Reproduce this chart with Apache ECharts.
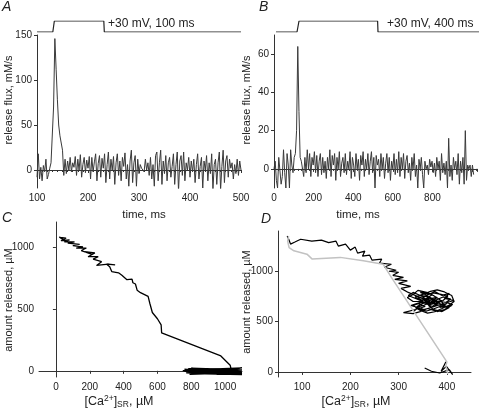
<!DOCTYPE html>
<html><head><meta charset="utf-8">
<script src="https://cdn.jsdelivr.net/npm/echarts@6/dist/echarts.min.js"></script>
<style>html,body{margin:0;padding:0;background:#fff}#c{width:480px;height:411px}</style>
</head><body><div id="c"></div>
<script>
// Panel A: release flux (mM/s), sampled from t0 every dt ms
const fluxA_t0 = 100, fluxA_dt = 2.5;
const fluxA = [-8,18,-10,3,-12,5,-2,12,-10,-5,2,8,6,70,146,112,78,50,38,36,22,-6,
12,-4,10,0,14,-2,8,3,15,-6,12,0,17,-8,6,14,-3,11,2,15,-10,14,-2,9,18,-12,7,16,-8,13,2,18,-14,6,20,-10,12,0,15,-16,8,18,-6,10,-12,14,4,19,-10,6,-18,10,22,-14,8,16,-18,12,-4,6,2,4,-2,12,0,8,-6,14,-10,6,-18,16,20,-12,8,22,-16,10,-4,16,-12,8,14,-8,4,18,-16,6,20,-24,10,16,-6,20,-12,8,0,14,-8,10,-2,12,-14,6,18,-10,4,14,-20,10,0,16,-12,8,-4,18,-22,6,12,-16,8,20,-22,4,22,-14,10,16,-8,12,2,8,-10,6,-4,12,-6,10,0];
// Panel B
const fluxB_t0 = 0, fluxB_dt = 6;
const fluxB = [0,4,-6,-10,6,7,-8,-4,10,-2,-10,8,2,-10,10,2,-2,6,8,20,64,30,6,4,4,-4,6,-2,10,0,8,-4,6,2,9,-2,7,-4,4,8,-3,6,-2,4,-5,6,0,10,-4,7,2,8,-6,6,0,9,-4,3,6,-2,8,-3,4,0,9,-5,6,2,-4,8,0,5,-6,7,2,9,-4,5,0,8,-3,4,9,-2,6,-10,7,2,5,-4,8,0,6,-5,3,8,-2,6,-6,4,0,8,-3,5,-2,9,-4,6,0,8,-5,4,7,-2,3,-6,6,0,8,-4,2,-10,5,0,6,-3,-10,4,0,2,-3,5,1,4,-2,3,-4,6,0,4,-6,8,-2,3,-3,4,-10,16,-4,2,-6,6,0,4,-3,8,-8,4,-2,6,-8,20,-6,2,0,2,-4,2,-3];
// Voltage protocol (0 = holding, 1 = +30 mV)
const pulseA_t = [100,131,134,231,232,500];
const pulseA_v = [0,0,1,1,0,0];
const pulseB_t = [10,115,125,518,520,1025];
const pulseB_v = [0,0,1,1,0,0];
// Panel C: [Ca2+]SR (µM) vs amount released (µM)
const caC = [1100,760,1095,790,1100,770,1090,750,1100,880,1085,770,1100,800,1060,760,1100,790,1090,900,1100,780,1070,950,1100,820,1095,760,1100,850,1040,1030,
975,625,622,600,570,555,545,500,480,470,455,450,420,390,370,330,318,300,350,310,240,270,220,250,190,230,170,210,150,180,120,160,100,140,70,110,50,80,30,60,25,40,20];
const relC = [0,12,-22,18,-28,-12,20,2,-30,-25,15,-18,8,22,-24,-5,-14,-28,22,-20,-26,14,10,-28,-18,18,-8,5,24,-15,-12,45,
120,305,370,420,470,545,600,630,650,700,710,740,735,770,790,800,840,860,855,860,850,880,900,920,920,950,960,940,970,990,990,1000,1010,1020,1030,1040,1040,1055,1050,1070,1075,1060,1080];
// Panel D: black trace (null = gap in the recording)
const caD1 = [354,368,385,405,412,399,388,398,null,
331,340,325,350,335,360,345,370,355,380,365,390,375,400,385,410,395,380,360,345,330,310,335,355,340,365,350,375,390,405,395,415,400,385,370,360,380,365,345,330,320,340,355,370,385,405,390,372,362,378,350,338,352,368,383,397,385,372,358,340,330,318,330,
345,360,375,392,408,398,412,400,388,372,358,342,330,348,366,384,370,356,372,388,402,392,378,362,346,334,350,366,380,395,410,415,405,390,375,360,345,335,352,368,
320,305,325,300,318,292,310,288,300,
280,295,270,285,260,265,245,240,225,230,215,210,200,190,175,170,155,140,120,97,85,76,72,69];
const relD1 = [39,7,-10,23,-26,56,7,100,null,
600,640,660,700,730,760,790,770,720,740,690,710,660,680,640,660,620,600,630,600,580,590,620,650,680,710,740,800,760,780,730,710,690,700,650,670,690,740,760,790,760,720,690,720,680,640,600,620,660,705,680,650,620,640,665,650,720,760,790,810,770,740,700,
700,735,710,745,725,690,670,640,655,625,605,625,660,690,670,690,730,760,785,770,750,710,680,700,720,745,770,800,815,795,760,700,665,630,598,585,610,640,662,690,
790,830,850,880,905,920,940,960,990,
1000,1010,1040,1070,1080,1120,1110,1160,1150,1200,1180,1240,1210,1270,1250,1300,1285,1310,1300,1318,1290,1270,1320,1350];
// Panel D: grey trace
const caD2 = [402,398,400,285,268,227,179,121,110,83,73,70,72];
const relD2 = [-20,60,100,940,1070,1105,1138,1121,1170,1203,1236,1300,1350];

function sampled(t0, dt, arr){ return arr.map((v,i)=>[t0+i*dt, v]); }
function pairs(xs, ys){ return xs.map((x,i)=> x==null ? ['-','-'] : [x, ys[i]]); }

const FONT = 'Liberation Sans, Arial, sans-serif';
const TXT = '#222';
const axLine = {lineStyle:{color:'#333', width:1}};
const lab = {color:TXT, fontSize:10, fontFamily:FONT, margin:5, formatter:v=>String(v)};
const tick = {length:3, lineStyle:{color:'#333'}};
function labV(vals, extra){ return Object.assign({}, lab, {customValues:vals}, extra||{}); }
function tickV(vals){ return Object.assign({}, tick, {customValues:vals}); }

function xAx(gi, min, max, opts){ return Object.assign({type:'value', gridIndex:gi, min, max, axisLine:axLine, axisTick:tick, axisLabel:lab, splitLine:{show:false}}, opts||{}); }
function yAx(gi, min, max, opts){ return Object.assign({type:'value', gridIndex:gi, min, max, axisLine:Object.assign({show:true},axLine), axisTick:tick, axisLabel:lab, splitLine:{show:false}}, opts||{}); }
function hidden(gi, min, max){ return {type:'value', gridIndex:gi, min, max, show:false}; }

const minor = {show:true, splitNumber:10, length:2, lineStyle:{color:'#333'}};
const chart = echarts.init(document.getElementById('c'), null, {renderer:'canvas'});
const option = {
  animation:false,
  backgroundColor:'#fff',
  grid:[
    {left:37, top:35, width:204, height:153},
    {left:274, top:35, width:205, height:153},
    {left:39, top:222, width:203, height:155},
    {left:278, top:231, width:193, height:146},
    {left:37, top:21, width:204, height:11},
    {left:274, top:21, width:205, height:11}
  ],
  xAxis:[
    xAx(0,100,500,{interval:100, minorTick:minor}),
    xAx(1,0,1025,{interval:200, axisLabel:Object.assign({}, lab, {formatter:v=>v>=1000?'':String(v)}), minorTick:minor}),
    xAx(2,-100,1100,{axisLabel:labV([0,200,400,600,800,1000]), axisTick:tickV([0,200,400,600,800,1000])}),
    xAx(3,50,450,{axisLabel:labV([100,200,300,400]), axisTick:tickV([100,200,300,400])}),
    hidden(4,100,500),
    hidden(5,0,1025)
  ],
  yAxis:[
    yAx(0,-20,150,{axisLabel:labV([0,50,100,150]), axisTick:tickV([0,50,100,150])}),
    yAx(1,-10,70,{axisLabel:labV([0,20,40,60]), axisTick:tickV([0,20,40,60])}),
    yAx(2,-50,1200,{axisLabel:labV([0,500,1000]), axisTick:tickV([0,500,1000])}),
    yAx(3,-50,1400,{axisLabel:labV([0,500,1000]), axisTick:tickV([0,500,1000])}),
    hidden(4,0,1),
    hidden(5,0,1)
  ],
  series:[
    {type:'line', xAxisIndex:0, yAxisIndex:0, data:sampled(fluxA_t0, fluxA_dt, fluxA), showSymbol:false, lineStyle:{color:'#3a3a3a', width:1}, clip:true},
    {type:'line', xAxisIndex:1, yAxisIndex:1, data:sampled(fluxB_t0, fluxB_dt, fluxB), showSymbol:false, lineStyle:{color:'#3a3a3a', width:1}, clip:true},
    {type:'line', xAxisIndex:2, yAxisIndex:2, data:pairs(caC, relC), showSymbol:false, lineStyle:{color:'#000', width:1.3}, clip:true},
    {type:'line', xAxisIndex:3, yAxisIndex:3, data:pairs(caD1, relD1), showSymbol:false, connectNulls:false, lineStyle:{color:'#000', width:1.2}, clip:true},
    {type:'line', xAxisIndex:3, yAxisIndex:3, data:pairs(caD2, relD2), showSymbol:false, lineStyle:{color:'#c2c2c2', width:1.5}, clip:true},
    {type:'line', xAxisIndex:4, yAxisIndex:4, data:pairs(pulseA_t, pulseA_v), showSymbol:false, lineStyle:{color:'#222', width:1.2}},
    {type:'line', xAxisIndex:5, yAxisIndex:5, data:pairs(pulseB_t, pulseB_v), showSymbol:false, lineStyle:{color:'#222', width:1.2}}
  ],
  graphic:[
    {type:'text', left:2, top:0, style:{text:'A', font:'italic 14px '+FONT, fill:TXT}},
    {type:'text', left:259, top:0, style:{text:'B', font:'italic 14px '+FONT, fill:TXT}},
    {type:'text', left:2, top:211, style:{text:'C', font:'italic 14px '+FONT, fill:TXT}},
    {type:'text', left:261, top:212, style:{text:'D', font:'italic 14px '+FONT, fill:TXT}},
    {type:'text', x:108, y:24, style:{text:'+30 mV, 100 ms', font:'12px '+FONT, fill:TXT, verticalAlign:'middle'}},
    {type:'text', x:387, y:24, style:{text:'+30 mV, 400 ms', font:'12px '+FONT, fill:TXT, verticalAlign:'middle'}},
    {type:'text', x:144, y:215, style:{text:'time, ms', font:'11.5px '+FONT, fill:TXT, align:'center', verticalAlign:'middle'}},
    {type:'text', x:358, y:215, style:{text:'time, ms', font:'11.5px '+FONT, fill:TXT, align:'center', verticalAlign:'middle'}},
    {type:'text', x:9, y:100, rotation:Math.PI/2, style:{text:'release flux, mM/s', font:'11px '+FONT, fill:TXT, align:'center', verticalAlign:'middle'}},
    {type:'text', x:247, y:100, rotation:Math.PI/2, style:{text:'release flux, mM/s', font:'11px '+FONT, fill:TXT, align:'center', verticalAlign:'middle'}},
    {type:'text', x:9, y:300, rotation:Math.PI/2, style:{text:'amount released, µM', font:'11px '+FONT, fill:TXT, align:'center', verticalAlign:'middle'}},
    {type:'text', x:247, y:302, rotation:Math.PI/2, style:{text:'amount released, µM', font:'11px '+FONT, fill:TXT, align:'center', verticalAlign:'middle'}},
    {type:'text', x:119, y:402, style:{text:'[Ca{sup|2+}]{sub|SR}, µM', font:'12.5px '+FONT, fill:TXT, align:'center', verticalAlign:'middle',
      rich:{sup:{fontSize:8.5, fontFamily:FONT, padding:[0,0,6,0]}, sub:{fontSize:8.5, fontFamily:FONT, padding:[6,0,0,0]}}}},
    {type:'text', x:356, y:402, style:{text:'[Ca{sup|2+}]{sub|SR}, µM', font:'12.5px '+FONT, fill:TXT, align:'center', verticalAlign:'middle',
      rich:{sup:{fontSize:8.5, fontFamily:FONT, padding:[0,0,6,0]}, sub:{fontSize:8.5, fontFamily:FONT, padding:[6,0,0,0]}}}}
  ]
};
chart.setOption(option);
</script></body></html>
